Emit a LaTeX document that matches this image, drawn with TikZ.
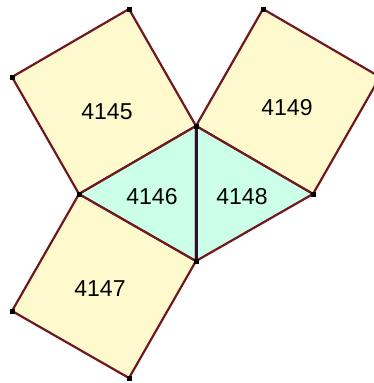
\documentclass[tikz,border=0pt]{standalone}
\usepackage{fontspec}
\setmainfont{Liberation Sans}
\definecolor{squarefill}{RGB}{255,250,205}
\definecolor{trianglefill}{RGB}{204,255,232}
\definecolor{edgered}{RGB}{112,24,32}
\definecolor{edgedark}{RGB}{44,16,48}
\tikzset{
  face/.style={draw=edgered, line width=2.2pt, line join=round},
  vertexdot/.style={fill=black, minimum size=5pt, inner sep=0pt},
  facelabel/.style={font=\fontsize{23}{27}\selectfont, text=black}
}
\begin{document}
\begin{tikzpicture}[x=1pt,y=-1pt]
\useasboundingbox (0,0) rectangle (374,383);
\clip (0,0) rectangle (374,383);
% Dreieckspunkte
\coordinate (A) at (196,126);
\coordinate (B) at (79,194);
\coordinate (C) at (196,261);
\coordinate (D) at (313,194);
% Quadratecken
\coordinate (P1) at (129,9);
\coordinate (P2) at (12,77);
\coordinate (Q1) at (263,9);
\coordinate (Q2) at (380,77);
\coordinate (R1) at (129,378);
\coordinate (R2) at (12,311);
    \draw[face, fill=squarefill] (B) -- (A) -- (P1) -- (P2) -- cycle;
    \draw[face, fill=squarefill] (A) -- (D) -- (Q2) -- (Q1) -- cycle;
    \draw[face, fill=squarefill] (B) -- (C) -- (R1) -- (R2) -- cycle;
    \draw[face, fill=trianglefill] (A) -- (B) -- (C) -- cycle;
    \draw[face, fill=trianglefill] (A) -- (D) -- (C) -- cycle;
    \draw[draw=edgedark, line width=3pt] (A) -- (C);
\foreach \p in {A,B,C,D,P1,P2,Q1,R1,R2}
    \node[vertexdot] at (\p) {};
    \node[facelabel] (f4145) at (107,112) {4145};
    \node[facelabel] (f4149) at (287,108) {4149};
    \node[facelabel] (f4146) at (152,197) {4146};
    \node[facelabel] (f4148) at (242,197) {4148};
    \node[facelabel] (f4147) at (100,289) {4147};
\end{tikzpicture}
\end{document}
